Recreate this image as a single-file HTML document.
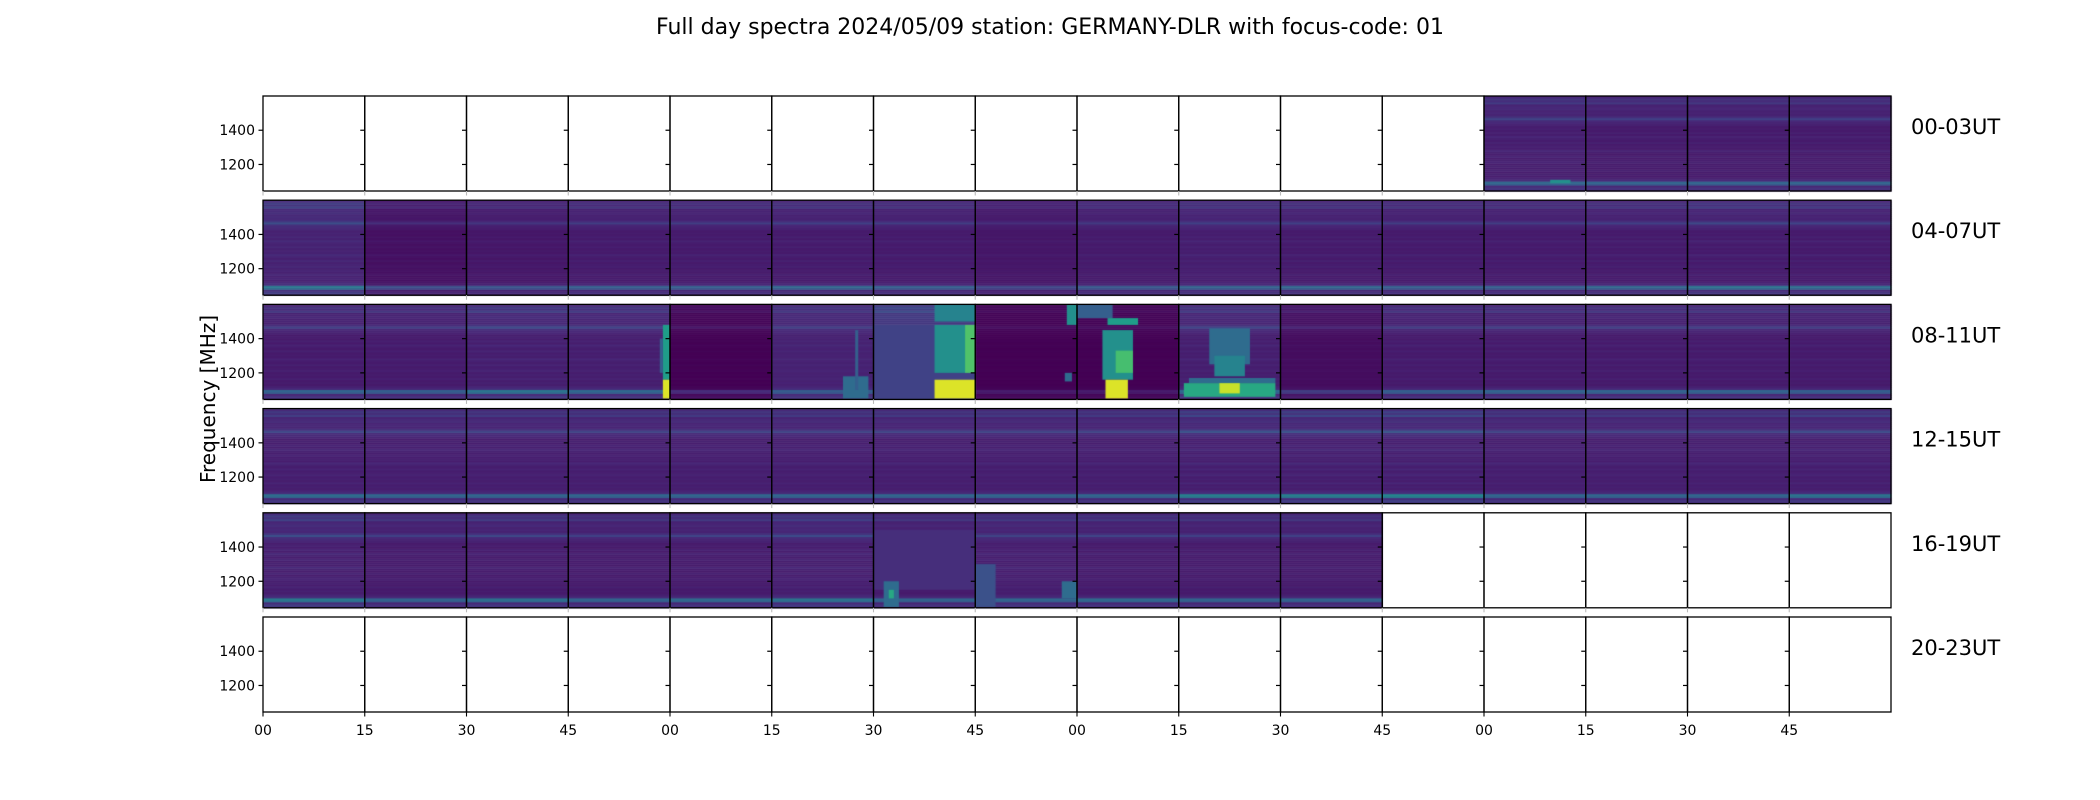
<!DOCTYPE html>
<html><head><meta charset="utf-8">
<style>
html,body{margin:0;padding:0;background:#fff;}
#wrap{position:relative;width:2100px;height:800px;overflow:hidden;font-family:"DejaVu Sans","Liberation Sans",sans-serif;}
canvas,svg{position:absolute;left:0;top:0;}
</style></head>
<body>
<div id="wrap">
<canvas id="cv" width="2100" height="800"></canvas>
<svg id="sv" width="2100" height="800"></svg>
</div>
<script>
// ---- data ----
const rowLabels = ["00-03UT","04-07UT","08-11UT","12-15UT","16-19UT","20-23UT"];
const xTickLabels = ["00","15","30","45","00","15","30","45","00","15","30","45","00","15","30","45"];
const yTicks = [1200, 1400];
const freqMin = 1045, freqMax = 1600;
// base intensity per panel (null = no data), 6 rows x 16 panels
const panelBase = [
 null,null,null,null,null,null,null,null,null,null,null,null,0.08,0.07,0.07,0.07,
 0.09,0.04,0.06,0.07,0.07,0.07,0.07,0.06,0.07,0.08,0.07,0.07,0.07,0.07,0.07,0.07,
 0.07,0.07,0.08,0.08,0.0,0.09,0.14,0.0,0.0,0.08,0.03,0.07,0.07,0.07,0.07,0.07,
 0.08,0.08,0.08,0.08,0.08,0.08,0.08,0.08,0.08,0.08,0.08,0.08,0.08,0.08,0.08,0.08,
 0.08,0.07,0.07,0.07,0.07,0.08,0.07,0.08,0.07,0.07,0.07,null,null,null,null,null,
 null,null,null,null,null,null,null,null,null,null,null,null,null,null,null,null
];
// RFI line strength per panel
const rfiStrength = [
 1,1,1,1,1,1,1,1,1,1,1,1,1,1,1,1,
 1.2,0.8,0.8,0.9,0.9,1,0.9,0.6,0.8,0.9,1,0.9,0.9,1,1.2,1.1,
 1,0.9,1.2,1,0.5,0.8,1,0.3,0.3,1,0.6,0.9,1,1,1,0.9,
 1.1,1,1,1,1,1,1,1,1,1.4,1.4,1.5,1,1,1,1.2,
 1.3,1,1.2,1,1.1,1.2,1,1,1.1,1,1,1,1,1,1,1,
 1,1,1,1,1,1,1,1,1,1,1,1,1,1,1,1
];
// frequency profile, 48 bins from freqMin (bottom) to freqMax (top)
const freqProfile = [0.05,0.08,0.03,0.22,0.26,0.04,0.02,0.0,0.01,0.0,0.02,0.0,0.01,0.0,0.02,0.01,0.0,0.02,0.0,0.01,0.03,0.0,0.01,0.0,0.02,0.0,0.01,0.03,0.0,0.02,0.0,0.01,0.0,0.02,0.03,0.04,0.13,0.06,0.02,0.03,0.02,0.04,0.03,0.02,0.1,0.05,0.08,0.03];
// burst features: panel index, time fraction range, freq range, value
const featPanel = [35,35,35,37,37,38,38,38,38,38,39,39,40,40,40,40,40,41,41,41,41,41,70,70,70,71,71,12];
const featT0 =    [0.93,0.93,0.9,0.7,0.82,0.0,0.6,0.6,0.6,0.9,0.9,0.88,0.0,0.3,0.25,0.38,0.28,0.1,0.3,0.35,0.05,0.4,0.0,0.1,0.15,0.0,0.85,0.65];
const featT1 =    [1.0,1.0,0.93,0.95,0.85,1.0,1.0,1.0,1.0,1.0,1.0,0.95,0.35,0.6,0.55,0.55,0.5,0.95,0.7,0.65,0.95,0.6,1.0,0.25,0.2,0.2,1.0,0.85];
const featF0 =    [1160,1050,1200,1050,1100,1050,1200,1050,1500,1200,1480,1150,1520,1480,1160,1200,1050,1140,1250,1180,1060,1080,1150,1050,1100,1050,1100,1090];
const featF1 =    [1480,1160,1400,1180,1450,1480,1480,1160,1600,1480,1600,1200,1600,1520,1450,1330,1160,1170,1460,1300,1140,1140,1500,1200,1150,1300,1200,1110];
const featVal =   [0.55,0.95,0.3,0.35,0.3,0.2,0.5,0.95,0.45,0.72,0.5,0.35,0.3,0.55,0.5,0.7,0.95,0.35,0.35,0.45,0.6,0.92,0.13,0.35,0.6,0.25,0.35,0.5];

// ---- layout / scales ----
const L = 263, PW = 101.75, T0 = 96, PITCH = 104.2, H = 95, NC = 16, NR = 6;
const panelX = c => L + c*PW;
const rowY = r => T0 + r*PITCH;
const yScale = (r,f) => rowY(r) + (freqMax - f)/(freqMax - freqMin)*H;
const xScale = (c,t) => panelX(c) + t*PW;

const vir = [[68,1,84],[72,40,120],[62,73,137],[49,104,142],[38,130,142],[31,158,137],[53,183,121],[109,205,89],[180,222,44],[253,231,37]];
function viridis(v){v=Math.max(0,Math.min(1,v));const p=v*(vir.length-1),i=Math.min(vir.length-2,Math.floor(p)),f=p-i;
 const a=vir[i],b=vir[i+1];return `rgb(${Math.round(a[0]+(b[0]-a[0])*f)},${Math.round(a[1]+(b[1]-a[1])*f)},${Math.round(a[2]+(b[2]-a[2])*f)})`;}

const ctx = document.getElementById('cv').getContext('2d');
const nb = freqProfile.length, binF = (freqMax-freqMin)/nb;
for(let g=0; g<NR*NC; g++){
  const base = panelBase[g]; if(base===null) continue;
  const r=Math.floor(g/NC), c=g%NC;
  for(let b=0;b<nb;b++){
    const f0=freqMin+b*binF, f1=f0+binF;
    const y1=yScale(r,f0), y0=yScale(r,f1);
    ctx.fillStyle=viridis(base+freqProfile[b]*rfiStrength[g]);
    ctx.fillRect(xScale(c,0),y0,PW+0.5,y1-y0+0.5);
  }
}
for(let k=0;k<featPanel.length;k++){
  const g=featPanel[k], r=Math.floor(g/NC), c=g%NC;
  const x0=xScale(c,featT0[k]), x1=xScale(c,featT1[k]);
  const y0=yScale(r,featF1[k]), y1=yScale(r,featF0[k]);
  ctx.fillStyle=viridis(featVal[k]);
  ctx.fillRect(x0,y0,x1-x0,y1-y0);
}

// ---- svg axes ----
const NS="http://www.w3.org/2000/svg", sv=document.getElementById('sv');
function mk(tag,attrs,txt){const e=document.createElementNS(NS,tag);for(const k in attrs)e.setAttribute(k,attrs[k]);if(txt!==undefined)e.textContent=txt;sv.appendChild(e);return e;}
const title = mk('text',{x:1050,y:34,'text-anchor':'middle','font-size':22,fill:'#000'},'Full day spectra 2024/05/09 station: GERMANY-DLR with focus-code: 01');


const ylab = mk('text',{x:0,y:0,transform:'translate(215,399) rotate(-90)','text-anchor':'middle','font-size':20,fill:'#000'},'Frequency [MHz]');


for(let r=0;r<NR;r++){
  for(let c=0;c<NC;c++){
    const rect = mk('rect',{x:panelX(c),y:rowY(r),width:PW,height:H,fill:'none',stroke:'#000','stroke-width':1.3});
    
    
    for(const f of yTicks){
      const y=yScale(r,f);
      const t = mk('line',{x1:panelX(c)-4.5,x2:panelX(c),y1:y,y2:y,stroke:'#000','stroke-width':1.2});
      
      
      if(c===0){
        const tl = mk('text',{x:panelX(0)-8,y:y+5,'text-anchor':'end','font-size':14,fill:'#000'},String(f));
        
        
      }
    }
    const xt = mk('line',{x1:panelX(c),x2:panelX(c),y1:rowY(r)+H,y2:rowY(r)+H+4.5,stroke:r===NR-1?'#000':'#bbb','stroke-width':1.1});
    
    
    if(r===NR-1){
      const xl = mk('text',{x:panelX(c),y:rowY(r)+H+23,'text-anchor':'middle','font-size':14,fill:'#000'},xTickLabels[c]);
      
      
    }
  }
  const rl = mk('text',{x:1911,y:rowY(r)+38,'font-size':21,fill:'#000'},rowLabels[r]);
  
  
}
</script>
</body></html>
